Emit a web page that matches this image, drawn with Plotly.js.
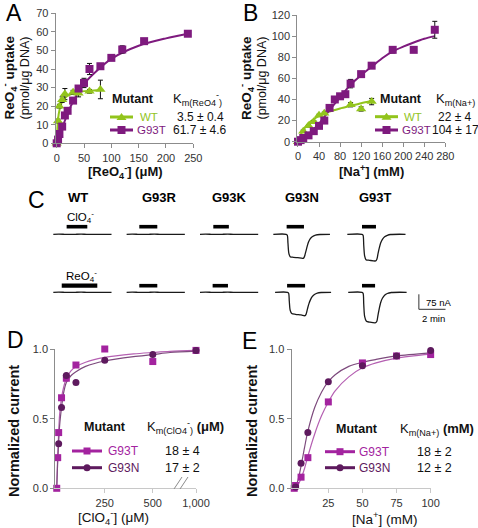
<!DOCTYPE html>
<html>
<head>
<meta charset="utf-8">
<script src="https://cdn.plot.ly/plotly-3.0.1.min.js"></script>
<style>html,body{margin:0;padding:0;background:#fff;}#chart{width:478px;height:528px;}</style>
</head>
<body>
<div id="chart"></div>
<script>
// ---------------- DATA ----------------
// Panel A: ReO4- uptake vs [ReO4-] (uM)
const A_WT_x = [0, 2.5, 5, 10, 15, 30, 40, 60, 80];
const A_WT_y = [0, 12, 20, 23.5, 26.5, 27.5, 27, 28, 29];
const A_WT_err = [0, 1, 1, 1.5, 3, 1, 2, 1, 5];
const A_G93T_x = [0, 2.5, 5, 10, 15, 20, 30, 40, 50, 60, 80, 100, 120, 160, 240];
const A_G93T_y = [0, 2, 5, 9, 15, 17.5, 23, 29.5, 32.5, 40, 41.5, 46, 50.5, 55, 59];
const A_G93T_err = [0, 0.5, 1, 1, 1, 1, 1.5, 1, 2.5, 3, 1, 1, 2, 1, 1];
const A_WT_fit_x = [0, 1, 2.5, 5, 10, 20, 40, 60, 80];
const A_WT_fit_y = [0, 6.7, 12.9, 17.8, 22.4, 25.6, 27.6, 28.3, 28.7];
const A_G93T_fit_x = [3, 10, 20, 30, 50, 75, 100, 150, 200, 240];
const A_G93T_fit_y = [0, 8, 16, 22.5, 32, 39.5, 45.5, 52.5, 56.5, 59];
const A_Km = ['3.5 ± 0.4', '61.7 ± 4.6'];

// Panel B: ReO4- uptake vs [Na+] (mM)
const B_WT_x = [0, 10, 20, 30, 40, 50, 100, 120, 140];
const B_WT_y = [0, 10, 15, 19, 25, 27, 35, 31, 38];
const B_WT_err = [0, 1, 1, 1, 1, 1, 2, 2, 3];
const B_G93T_x = [0, 5, 10, 20, 30, 40, 50, 60, 70, 80, 90, 100, 120, 140, 180, 220, 260];
const B_G93T_y = [0, 1.5, 3.5, 6, 10, 15, 20, 32, 40, 43, 45, 55, 64, 72, 87, 87, 106];
const B_G93T_err = [0, 0.5, 0.5, 1, 1, 1, 1, 1, 1, 1, 1, 4, 1, 2, 3, 2, 8];
const B_WT_fit_x = [5, 10, 20, 30, 40, 60, 80, 100, 120, 140];
const B_WT_fit_y = [6.5, 11, 17.5, 21.5, 24.5, 28.5, 31.5, 34, 36.5, 38.5];
const B_G93T_fit_x = [0, 20, 40, 60, 80, 100, 120, 140, 160, 180, 200, 220, 240, 260];
const B_G93T_fit_y = [0, 7, 17, 30, 42, 54, 63, 71, 79, 85.5, 90, 94, 97.5, 100];
const B_Km = ['22 ± 4', '104 ± 17'];

// Panel C: current traces (time s, current nA)
const C_mutants = ['WT', 'G93R', 'G93K', 'G93N', 'G93T'];
const C_flat_t = [0, 25, 50, 75, 100, 125, 150, 175, 200, 225, 262];
const C_flat_I = [0, 0.5, 0, -0.5, 0, 0.5, 0, 0, -0.5, 0, 0];
const C_N_clo4_t = [0, 58, 63, 66, 70, 76, 90, 110, 135, 140, 146, 152, 158, 165, 175, 190, 210, 255];
const C_N_clo4_I = [0, 0, -5, -45, -95, -112, -115, -117, -120, -112, -88, -62, -40, -24, -12, -4, -1, 0];
const C_T_clo4_t = [0, 66, 71, 74, 78, 84, 100, 128, 133, 138, 144, 150, 158, 168, 180, 195, 262];
const C_T_clo4_I = [0, 0, -5, -55, -108, -127, -130, -133, -125, -98, -68, -44, -25, -12, -5, -1, 0];
const C_N_reo4_t = [8, 64, 69, 72, 76, 83, 100, 125, 143, 148, 154, 160, 167, 175, 185, 198, 215, 260];
const C_N_reo4_I = [0, 0, -5, -45, -90, -106, -110, -113, -117, -108, -82, -58, -38, -22, -11, -4, -1, 0];
const C_T_reo4_t = [4, 66, 71, 74, 78, 86, 100, 128, 133, 138, 144, 150, 158, 168, 180, 198, 267];
const C_T_reo4_I = [0, 0, -5, -60, -120, -145, -149, -152, -145, -115, -80, -52, -30, -15, -6, -1, 0];
const C_clo4_bar_start = [60, 57, 60, 60, 66];
const C_clo4_bar_end = [153, 138, 130, 138, 129];
const C_reo4_bar_start = [38, 57, 57, 62, 66];
const C_reo4_bar_end = [198, 138, 126, 143, 125];
const C_scale_nA = 75;
const C_scale_s = 120;

// Panel D: normalized current vs [ClO4-] (uM)
const D_G93T_x = [0, 5, 10, 25, 50, 100, 250, 500, 1000];
const D_G93T_y = [0, 0.22, 0.40, 0.65, 0.79, 0.885, 1.0, 0.91, 0.99];
const D_G93N_x = [10, 25, 50, 100, 250, 500, 1000];
const D_G93N_y = [0.32, 0.58, 0.81, 0.76, 0.92, 0.96, 0.99];
const D_fit_x = [0, 2, 5, 10, 15, 25, 35, 50, 75, 100, 150, 250, 400, 500, 700, 1000];
const D_G93T_fit_y = [0, 0.10, 0.23, 0.40, 0.53, 0.65, 0.72, 0.79, 0.845, 0.873, 0.905, 0.94, 0.965, 0.975, 0.983, 0.99];
const D_G93N_fit_y = [0, 0.08, 0.19, 0.33, 0.45, 0.58, 0.68, 0.76, 0.81, 0.837, 0.875, 0.914, 0.945, 0.96, 0.975, 0.985];
const D_Km = ['18 ± 4', '17 ± 2'];
const D_ticks = [250, 500, 1000];
const D_ticktext = ['250', '500', '1,000'];

// Panel E: normalized current vs [Na+] (mM)
const E_G93T_x = [0, 1, 5, 10, 25, 50, 75, 100];
const E_G93T_y = [0, 0.02, 0.08, 0.22, 0.62, 0.90, 0.95, 0.96];
const E_G93N_x = [1, 5, 10, 25, 50, 75, 100];
const E_G93N_y = [0.01, 0.18, 0.40, 0.765, 0.88, 0.95, 0.99];
const E_fit_x = [0, 2.5, 5, 7.5, 10, 15, 20, 25, 30, 40, 50, 60, 75, 100];
const E_G93T_fit_y = [0, 0.02, 0.07, 0.14, 0.23, 0.39, 0.52, 0.62, 0.70, 0.80, 0.865, 0.90, 0.935, 0.963];
const E_G93N_fit_y = [0, 0.05, 0.16, 0.29, 0.41, 0.58, 0.69, 0.765, 0.815, 0.875, 0.905, 0.925, 0.95, 0.972];
const E_Km = ['18 ± 2', '12 ± 2'];

// ---------------- STYLE / LAYOUT ----------------
const W = 478, H = 528;
const X = p => p / W;
const Y = p => 1 - p / H;
const F = 'Liberation Sans, Arial, sans-serif';
const GREEN = '#92c41c';
const PURPLE = '#7e1a7e';
const MAG = '#a3239f';
const DARK = '#5e1a5e';
const MAGL = '#b560b2';
const DARKL = '#7d4a7d';

// D axis break mapping (display coordinate)
const dmap = v => v <= 500 ? v : 500 + (v - 500) * 0.45;

const traces = [];
function line(x, y, color, width, xa, ya, shape) {
  traces.push({x, y, xaxis: xa, yaxis: ya, mode: 'lines', type: 'scatter', showlegend: false, hoverinfo: 'skip',
    line: {color, width, shape: shape || 'spline', smoothing: 0.8}});
}
function pts(x, y, color, symbol, size, xa, ya, err) {
  const t = {x, y, xaxis: xa, yaxis: ya, mode: 'markers', type: 'scatter', showlegend: false, cliponaxis: false,
    marker: {color, symbol, size, line: {width: 0}}};
  if (err) t.error_y = {type: 'data', array: err, visible: true, color: '#111', thickness: 1, width: 2.5};
  traces.push(t);
}

// A
line(A_WT_fit_x, A_WT_fit_y, GREEN, 2, 'x', 'y');
line(A_G93T_fit_x, A_G93T_fit_y, PURPLE, 2, 'x', 'y');
pts(A_WT_x, A_WT_y, GREEN, 'triangle-up', 9, 'x', 'y', A_WT_err);
pts(A_G93T_x, A_G93T_y, PURPLE, 'square', 8, 'x', 'y', A_G93T_err);
// B
line(B_WT_fit_x, B_WT_fit_y, GREEN, 2, 'x2', 'y2');
line(B_G93T_fit_x, B_G93T_fit_y, PURPLE, 2, 'x2', 'y2');
pts(B_WT_x, B_WT_y, GREEN, 'triangle-up', 9, 'x2', 'y2', B_WT_err);
pts(B_G93T_x, B_G93T_y, PURPLE, 'square', 8, 'x2', 'y2', B_G93T_err);

// C  (positions of each trace on the panel)
const C_colOffset = [0, 330, 660, 990, 1323];
const C_rowOffset = [0, -290];
const C_barLift = [38, 33];
const C_rows = [
  {t: [C_flat_t, C_flat_t, C_flat_t, C_N_clo4_t, C_T_clo4_t], I: [C_flat_I, C_flat_I, C_flat_I, C_N_clo4_I, C_T_clo4_I],
   bs: C_clo4_bar_start, be: C_clo4_bar_end},
  {t: [C_flat_t, C_flat_t, C_flat_t, C_N_reo4_t, C_T_reo4_t], I: [C_flat_I, C_flat_I, C_flat_I, C_N_reo4_I, C_T_reo4_I],
   bs: C_reo4_bar_start, be: C_reo4_bar_end}
];
C_rows.forEach((row, r) => {
  C_mutants.forEach((m, c) => {
    const ox = C_colOffset[c], oy = C_rowOffset[r];
    line(row.t[c].map(v => v + ox), row.I[c].map(v => v + oy), '#1a1a1a', 1.3, 'x3', 'y3', 'spline');
    line([row.bs[c] + ox, row.be[c] + ox], [oy + C_barLift[r], oy + C_barLift[r]], '#000', (r === 1 && c === 0) ? 4.2 : 3.6, 'x3', 'y3', 'linear');
  });
});
// scale bar
const sbx = 1645, sby = -300;
line([sbx, sbx, sbx + C_scale_s], [sby, sby - C_scale_nA, sby - C_scale_nA], '#333', 1, 'x3', 'y3', 'linear');

// D
line(D_fit_x.map(dmap), D_G93T_fit_y, MAGL, 1.2, 'x4', 'y4');
line(D_fit_x.map(dmap), D_G93N_fit_y, DARKL, 1.2, 'x4', 'y4');
pts(D_G93T_x.map(dmap), D_G93T_y, MAG, 'square', 7, 'x4', 'y4');
pts(D_G93N_x.map(dmap), D_G93N_y, DARK, 'circle', 7, 'x4', 'y4');
// E
line(E_fit_x, E_G93T_fit_y, MAGL, 1.2, 'x5', 'y5');
line(E_fit_x, E_G93N_fit_y, DARKL, 1.2, 'x5', 'y5');
pts(E_G93T_x, E_G93T_y, MAG, 'square', 7, 'x5', 'y5');
pts(E_G93N_x, E_G93N_y, DARK, 'circle', 7, 'x5', 'y5');

const ax = (o) => Object.assign({
  showgrid: false, zeroline: false, showline: true, linecolor: '#8c8c8c', linewidth: 1,
  ticks: 'outside', ticklen: 4, tickcolor: '#8c8c8c', fixedrange: true,
  tickfont: {family: F, size: 11, color: '#333'}
}, o);

const annotations = [];
function ann(text, x, y, o) {
  annotations.push(Object.assign({text, x: X(x), y: Y(y), xref: 'paper', yref: 'paper', showarrow: false,
    xanchor: 'center', yanchor: 'middle', font: {family: F, size: 12, color: '#111'}}, o || {}));
}
const shapes = [];
function glyph(xc, yc, len, color, sym, s) {
  shapes.push({type: 'line', xref: 'paper', yref: 'paper', x0: X(xc - len / 2), x1: X(xc + len / 2), y0: Y(yc), y1: Y(yc),
    line: {color, width: 3}});
  const h = s / 2;
  if (sym === 'square') shapes.push({type: 'rect', xref: 'paper', yref: 'paper', x0: X(xc - h), x1: X(xc + h), y0: Y(yc + h), y1: Y(yc - h), fillcolor: color, line: {width: 0}});
  if (sym === 'circle') shapes.push({type: 'circle', xref: 'paper', yref: 'paper', x0: X(xc - h), x1: X(xc + h), y0: Y(yc + h), y1: Y(yc - h), fillcolor: color, line: {width: 0}});
  if (sym === 'triangle') shapes.push({type: 'path', xref: 'paper', yref: 'paper',
    path: `M ${X(xc)},${Y(yc - h)} L ${X(xc + h + 1)},${Y(yc + h - 1)} L ${X(xc - h - 1)},${Y(yc + h - 1)} Z`, fillcolor: color, line: {width: 0}});
}

const NAME = 11.5, VAL = 12;

// Panel letters
ann('A', 13.5, 13, {font: {family: F, size: 23, color: '#000'}});
ann('B', 250.5, 13, {font: {family: F, size: 23, color: '#000'}});
ann('C', 36.5, 200, {font: {family: F, size: 23, color: '#000'}});
ann('D', 15.5, 340, {font: {family: F, size: 23, color: '#000'}});
ann('E', 249.5, 340.5, {font: {family: F, size: 23, color: '#000'}});

// A titles + legend
ann('<b>[ReO<sub>4</sub><sup>-</sup>] (μM)</b>', 125, 171.5, {font: {family: F, size: 13, color: '#111'}});
ann('<b>ReO<sub>4</sub><sup>-</sup> uptake</b>', 9.5, 78, {textangle: -90, font: {family: F, size: 13.5, color: '#111'}});
ann('(pmol/μg DNA)', 24.5, 78, {textangle: -90, font: {family: F, size: 12.5, color: '#111'}});
ann('<b>Mutant</b>', 133, 99, {font: {family: F, size: 12.5, color: '#111'}});
ann('K<sub>m(ReO4</sub><sup>-</sup><sub>)</sub>', 197, 99, {font: {family: F, size: 13, color: '#111'}});
glyph(121.5, 117, 23, GREEN, 'triangle', 8);
glyph(121.5, 130, 23, PURPLE, 'square', 8);
ann('WT', 138, 117, {xanchor: 'left', font: {family: F, size: NAME, color: GREEN}});
ann('G93T', 135, 130, {xanchor: 'left', font: {family: F, size: NAME, color: PURPLE}});
ann(A_Km[0], 200, 117, {font: {family: F, size: VAL, color: '#111'}});
ann(A_Km[1], 200, 130, {font: {family: F, size: VAL, color: '#111'}});

// B titles + legend
ann('<b>[Na<sup>+</sup>] (mM)</b>', 371, 171, {font: {family: F, size: 13, color: '#111'}});
ann('<b>ReO<sub>4</sub><sup>-</sup> uptake</b>', 246, 78, {textangle: -90, font: {family: F, size: 13.5, color: '#111'}});
ann('(pmol/μg DNA)', 261.5, 78, {textangle: -90, font: {family: F, size: 12.5, color: '#111'}});
ann('<b>Mutant</b>', 401, 99, {font: {family: F, size: 12.5, color: '#111'}});
ann('K<sub>m(Na+)</sub>', 455, 99, {font: {family: F, size: 13, color: '#111'}});
glyph(386.5, 116.7, 23, GREEN, 'triangle', 8);
glyph(386.5, 130, 23, PURPLE, 'square', 8);
ann('WT', 402, 116.7, {xanchor: 'left', font: {family: F, size: NAME, color: GREEN}});
ann('G93T', 400, 130, {xanchor: 'left', font: {family: F, size: NAME, color: PURPLE}});
ann(B_Km[0], 455, 116.7, {font: {family: F, size: VAL, color: '#111'}});
ann(B_Km[1], 455, 130, {font: {family: F, size: VAL, color: '#111'}});

// C labels
const C_labelX = [78, 159, 229, 302, 375];
C_mutants.forEach((m, i) => ann('<b>' + m + '</b>', C_labelX[i], 197.5, {font: {family: F, size: 13, color: '#000'}}));
ann('ClO<sub>4</sub><sup>-</sup>', 80, 217.5, {font: {family: F, size: 11.5, color: '#000'}});
ann('ReO<sub>4</sub><sup>-</sup>', 81, 275.5, {font: {family: F, size: 11.5, color: '#000'}});
ann(C_scale_nA + ' nA', 423.5, 302, {xanchor: 'left', font: {family: F, size: 9.5, color: '#000'}});
ann('2 min', 433, 318, {font: {family: F, size: 9.5, color: '#000'}});

// D titles + legend
ann('<b>Normalized current</b>', 14, 431, {textangle: -90, font: {family: F, size: 14.5, color: '#111'}});
ann('[ClO<sub>4</sub><sup>-</sup>] (μM)', 113, 517, {font: {family: F, size: 13.5, color: '#111'}});
ann('<b>Mutant</b>', 105, 427, {font: {family: F, size: 12.5, color: '#111'}});
ann('K<sub>m(ClO4</sub><sup>-</sup><sub>)</sub> <b>(μM)</b>', 185, 427, {font: {family: F, size: 13, color: '#111'}});
glyph(87, 451, 30, MAG, 'square', 7);
glyph(87, 467.7, 30, DARK, 'circle', 7);
ann('G93T', 106, 451, {xanchor: 'left', font: {family: F, size: 12, color: MAG}});
ann('G93N', 106, 467.7, {xanchor: 'left', font: {family: F, size: 12, color: DARK}});
ann(D_Km[0], 182, 451, {font: {family: F, size: 12.5, color: '#111'}});
ann(D_Km[1], 182, 467.7, {font: {family: F, size: 12.5, color: '#111'}});
// axis break marks
shapes.push({type: 'line', xref: 'paper', yref: 'paper', x0: X(174), y0: Y(489), x1: X(182), y1: Y(477), line: {color: '#8c8c8c', width: 1}});
shapes.push({type: 'line', xref: 'paper', yref: 'paper', x0: X(180), y0: Y(489), x1: X(188), y1: Y(477), line: {color: '#8c8c8c', width: 1}});

// E titles + legend
ann('<b>Normalized current</b>', 252, 431, {textangle: -90, font: {family: F, size: 14.5, color: '#111'}});
ann('[Na<sup>+</sup>] (mM)', 385, 518, {font: {family: F, size: 13.5, color: '#111'}});
ann('<b>Mutant</b>', 357, 429, {font: {family: F, size: 12.5, color: '#111'}});
ann('K<sub>m(Na+)</sub> <b>(mM)</b>', 437, 429, {font: {family: F, size: 13, color: '#111'}});
glyph(340, 451.7, 30, MAG, 'square', 7);
glyph(340, 467.7, 30, DARK, 'circle', 7);
ann('G93T', 357, 451.7, {xanchor: 'left', font: {family: F, size: 12, color: MAG}});
ann('G93N', 357, 467.7, {xanchor: 'left', font: {family: F, size: 12, color: DARK}});
ann(E_Km[0], 434, 451.7, {font: {family: F, size: 12.5, color: '#111'}});
ann(E_Km[1], 434, 467.7, {font: {family: F, size: 12.5, color: '#111'}});

const layout = {
  width: W, height: H, margin: {l: 0, r: 0, t: 0, b: 0}, paper_bgcolor: '#fff', plot_bgcolor: 'rgba(0,0,0,0)',
  showlegend: false, font: {family: F},
  xaxis: ax({domain: [X(55.6), X(193.3)], range: [-2, 250], tickvals: [0, 50, 100, 150, 200, 250], anchor: 'y'}),
  yaxis: ax({domain: [Y(143.3), Y(13.3)], range: [0, 70], dtick: 10, anchor: 'x'}),
  xaxis2: ax({domain: [X(297.3), X(445.3)], range: [-1.3, 280], dtick: 40, anchor: 'y2'}),
  yaxis2: ax({domain: [Y(141.7), Y(15)], range: [0, 120], dtick: 20, anchor: 'x2'}),
  xaxis3: {domain: [X(40), X(470)], range: [(40 - 53.3) * 4.5, (470 - 53.3) * 4.5], visible: false, anchor: 'y3', fixedrange: true},
  yaxis3: {domain: [Y(335), Y(185)], range: [-503.5, 246.5], visible: false, anchor: 'x3', fixedrange: true},
  xaxis4: ax({domain: [X(55.2), X(196)], range: [-8, 725], tickvals: D_ticks.map(dmap), ticktext: D_ticktext, anchor: 'y4', linecolor: '#c8c8c8', tickcolor: '#c8c8c8'}),
  yaxis4: ax({domain: [Y(488.3), Y(349)], range: [0, 1], tickvals: [0, 0.5, 1], tickformat: '.1f', anchor: 'x4'}),
  xaxis5: ax({domain: [X(291.5), X(431.2)], range: [-2, 100.4], tickvals: [25, 50, 75, 100], anchor: 'y5', linecolor: '#c8c8c8', tickcolor: '#c8c8c8'}),
  yaxis5: ax({domain: [Y(488.3), Y(349)], range: [0, 1], tickvals: [0, 0.5, 1], tickformat: '.1f', anchor: 'x5'}),
  annotations, shapes
};

Plotly.newPlot('chart', traces, layout, {displayModeBar: false, staticPlot: true});
</script>
</body>
</html>
